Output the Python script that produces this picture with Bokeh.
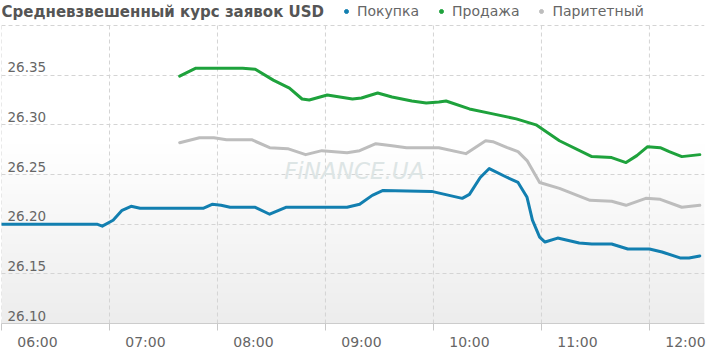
import numpy as np
from bokeh.plotting import figure
from bokeh.models import FixedTicker, Legend, LegendItem, Label
from bokeh.embed import file_html
from bokeh.resources import INLINE
from bokeh.core.properties import value

# ---------------- data ----------------
title_text = "Средневзвешенный курс заявок USD"
series_names = ["Покупка", "Продажа", "Паритетный"]
series_colors = ["#127fb0", "#1ea23c", "#bdbdbd"]

buy_time = ["06:00", "06:53", "06:56", "07:02", "07:07", "07:12", "07:17", "07:52", "07:57",
            "08:02", "08:07", "08:21", "08:29", "08:38", "09:12", "09:19", "09:26", "09:32",
            "09:59", "10:16", "10:20", "10:26", "10:31", "10:41", "10:47", "10:52", "10:55",
            "10:59", "11:02", "11:09", "11:21", "11:28", "11:39", "11:48", "12:00", "12:07",
            "12:17", "12:22", "12:28"]
buy_rate = [26.200, 26.200, 26.198, 26.204, 26.214, 26.218, 26.216, 26.216, 26.220,
            26.219, 26.217, 26.217, 26.210, 26.217, 26.217, 26.220, 26.229, 26.234,
            26.233, 26.226, 26.230, 26.247, 26.256, 26.247, 26.242, 26.227, 26.204,
            26.187, 26.182, 26.186, 26.181, 26.180, 26.180, 26.175, 26.175, 26.172,
            26.166, 26.166, 26.168]

sell_time = ["07:39", "07:48", "08:14", "08:21", "08:31", "08:40", "08:47", "08:51", "09:01",
             "09:08", "09:15", "09:20", "09:29", "09:37", "09:48", "09:56", "10:03", "10:07",
             "10:20", "10:33", "10:46", "10:57", "11:10", "11:28", "11:39", "11:47", "11:53",
             "11:59", "12:06", "12:11", "12:18", "12:28"]
sell_rate = [26.349, 26.357, 26.357, 26.356, 26.345, 26.337, 26.326, 26.325, 26.330,
             26.328, 26.326, 26.327, 26.332, 26.328, 26.324, 26.322, 26.323, 26.324,
             26.316, 26.311, 26.306, 26.300, 26.284, 26.268, 26.267, 26.262, 26.269,
             26.278, 26.277, 26.273, 26.268, 26.270]

mid_time = ["07:39", "07:50", "07:58", "08:05", "08:19", "08:29", "08:39", "08:49", "08:58",
            "09:12", "09:19", "09:28", "09:37", "09:45", "10:03", "10:18", "10:29", "10:33",
            "10:41", "10:47", "10:52", "10:59", "11:10", "11:27", "11:39", "11:47", "11:58",
            "12:06", "12:18", "12:28"]
mid_rate = [26.282, 26.287, 26.287, 26.285, 26.285, 26.277, 26.276, 26.270, 26.274,
            26.272, 26.274, 26.281, 26.279, 26.277, 26.277, 26.271, 26.284, 26.283,
            26.277, 26.273, 26.264, 26.242, 26.236, 26.224, 26.223, 26.219, 26.226,
            26.225, 26.217, 26.219]

hour_labels = ["06:00", "07:00", "08:00", "09:00", "10:00", "11:00", "12:00"]
y_tick_values = [26.10, 26.15, 26.20, 26.25, 26.30, 26.35]
y_tick_labels = ["26.10", "26.15", "26.20", "26.25", "26.30", "26.35"]
y_grid_values = [26.10, 26.15, 26.20, 26.25, 26.30, 26.35, 26.40]
x_first, x_last = "06:00", "12:30"
y_min, y_max = 26.10, 26.40
watermark = "FiNANCE.UA"


def to_min(t):
    h, m = t.split(":")
    return int(h) * 60 + int(m)


FONT = "DejaVu Sans"
TXT = "#666666"
GRID = "#d4d4d4"

PLOT_H = 298      # pixel height of the value area
HEAD_H = 25       # pixel height of the heading row above it
x_start = to_min(x_first)
x_end = to_min(x_last) + 0.6
y_top = y_max + (y_max - y_min) * HEAD_H / PLOT_H

p = figure(width=713, height=352, x_range=(x_start, x_end), y_range=(y_min, y_top),
           output_backend="svg", toolbar_location=None, y_axis_location=None,
           min_border_left=1, min_border_right=9, min_border_top=0, min_border_bottom=29)
p.outline_line_color = None
p.background_fill_color = "white"
p.border_fill_color = "white"
p.xgrid.visible = False

# background gradient (white top -> light gray bottom)
n = 300
frac = np.linspace(0.0, 1.0, n)
shade = np.clip(237 + (255 - 237) * (frac / 0.6), 237, 255).astype(np.uint8)
img = np.empty((n, 1), dtype=np.uint32)
view = img.view(dtype=np.uint8).reshape((n, 1, 4))
view[:, 0, 0] = shade
view[:, 0, 1] = shade
view[:, 0, 2] = shade
view[:, 0, 3] = 255
p.image_rgba(image=[img], x=x_start, y=y_min, dw=x_end - x_start, dh=y_max - y_min, level="image")

# grids
hour_pos = [to_min(h) for h in hour_labels]
label_pos = [m + 20 for m in hour_pos]
p.segment(x0=hour_pos, x1=hour_pos, y0=[y_min] * len(hour_pos), y1=[y_max] * len(hour_pos),
          line_color=GRID, line_width=1, line_dash="4 3")
p.ygrid.ticker = FixedTicker(ticks=y_grid_values)
p.ygrid.grid_line_color = GRID
p.ygrid.grid_line_dash = "4 3"

# x axis
ax = p.xaxis[0]
ax.ticker = FixedTicker(ticks=label_pos, minor_ticks=hour_pos)
ax.major_label_overrides = {lp: lab for lp, lab in zip(label_pos, hour_labels)}
ax.major_tick_line_color = None
ax.major_tick_out = 0
ax.major_tick_in = 0
ax.minor_tick_in = 0
ax.minor_tick_out = 7
ax.minor_tick_line_color = "#c8c8c8"
ax.axis_line_color = "#cccccc"
ax.major_label_standoff = 3
ax.major_label_text_font = FONT
ax.major_label_text_font_size = "14px"
ax.major_label_text_color = TXT

# y labels inside plot
p.text(x=[x_start] * len(y_tick_values), y=y_tick_values, text=y_tick_labels,
       x_offset=6, y_offset=-3, text_align="left", text_baseline="bottom",
       text_font=value(FONT), text_font_size="13.5px", text_color=TXT)

# watermark
p.add_layout(Label(x=to_min("09:16"), y=26.254, text=watermark, text_align="center",
                   text_baseline="middle", text_font=FONT, text_font_size="23px",
                   text_font_style="italic", text_color="#dde5e5"))

# series
for t, r, c in [(sell_time, sell_rate, series_colors[1]),
                (mid_time, mid_rate, series_colors[2]),
                (buy_time, buy_rate, series_colors[0])]:
    p.line(x=[to_min(s) for s in t], y=r, line_color=c, line_width=3,
           line_join="round", line_cap="round")

# legend: dot markers from hidden proxy scatter renderers (first point of each series)
dots = []
for t, r, c in [(buy_time, buy_rate, series_colors[0]),
                (sell_time, sell_rate, series_colors[1]),
                (mid_time, mid_rate, series_colors[2])]:
    d = p.scatter(x=[to_min(t[0])], y=[r[0]], size=10, fill_color=c, line_color=c)
    d.visible = False
    dots.append(d)
legend = Legend(items=[LegendItem(label=nm, renderers=[d]) for nm, d in zip(series_names, dots)],
                location=(340, PLOT_H + HEAD_H - 19), orientation="horizontal",
                border_line_color=None, background_fill_alpha=0,
                inactive_fill_alpha=0,
                padding=0, margin=0, spacing=17, label_standoff=6,
                glyph_width=10, glyph_height=14, label_height=14,
                label_text_font=FONT, label_text_font_size="14px", label_text_color=TXT)
p.add_layout(legend, "center")

# title
p.add_layout(Label(x=0, y=PLOT_H + HEAD_H - 11, x_units="screen", y_units="screen",
                   text=title_text, text_baseline="middle", text_align="left", text_font=FONT,
                   text_font_size="15px", text_font_style="bold", text_color="#555555"))

open("out.html", "w").write(file_html(p, INLINE))
